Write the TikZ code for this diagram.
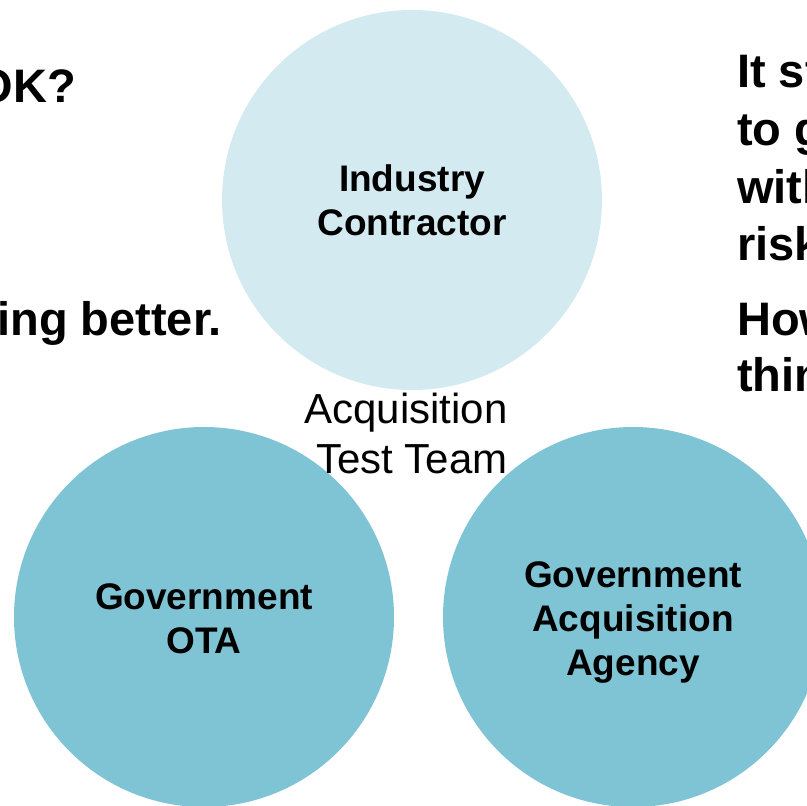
\documentclass[tikz,border=0pt]{standalone}
\usepackage{fontspec}
\setmainfont{Liberation Sans}
\usetikzlibrary{positioning}

\definecolor{lightblob}{RGB}{211,234,241}
\definecolor{tealblob}{RGB}{127,196,212}

\begin{document}
\begin{tikzpicture}
    [x=1pt,y=-1pt,%%%%%%%%%%%%%%%%%%%%%%%%%%%%%%
    blob/.style={circle,minimum size=380pt,inner sep=0pt},
    blobtext/.style={align=center,font=\fontsize{37}{44}\selectfont\bfseries},
    sidetext/.style={font=\fontsize{47}{58}\selectfont\bfseries,inner sep=0pt},
    ]%%%%%%%%%%%%%%%%%%%%%%%%%%%%%%

    \clip (0,0) rectangle (807,806);
    \fill[white] (0,0) rectangle (807,806);

    % industry contractor
    \node[blob,fill=lightblob] at (412,200) (industry){};
    \node[blobtext] at (412,200) (industry_text) {Industry\\Contractor};

    % government ota
    \node[blob,fill=tealblob] at (204,617) (ota){};
    \node[blobtext] at (204,619) (ota_text) {Government\\OTA};

    % government acquisition agency
    \node[blob,fill=tealblob] at (633,617) (agency){};
    \node[blobtext] at (633,622) (agency_text) {Government\\Acquisition\\Agency};

    % acquisition test team
    \node[align=right,font=\fontsize{42}{50}\selectfont] at (406,433) (team) {Acquisition\\Test Team};

    % left side text
    \node[sidetext,anchor=base east] at (76,102) (ok) {OK?};
    \node[sidetext,anchor=base east] at (222,335) (better) {ing better.};

    % right side text
    \node[sidetext,anchor=base west] at (737,87) (line1) {It st};
    \node[sidetext,anchor=base west] at (737,145) (line2) {to g};
    \node[sidetext,anchor=base west] at (737,203) (line3) {with};
    \node[sidetext,anchor=base west] at (737,260) (line4) {risk};
    \node[sidetext,anchor=base west] at (737,335) (line5) {How};
    \node[sidetext,anchor=base west] at (737,391) (line6) {thin};

\end{tikzpicture}
\end{document}
